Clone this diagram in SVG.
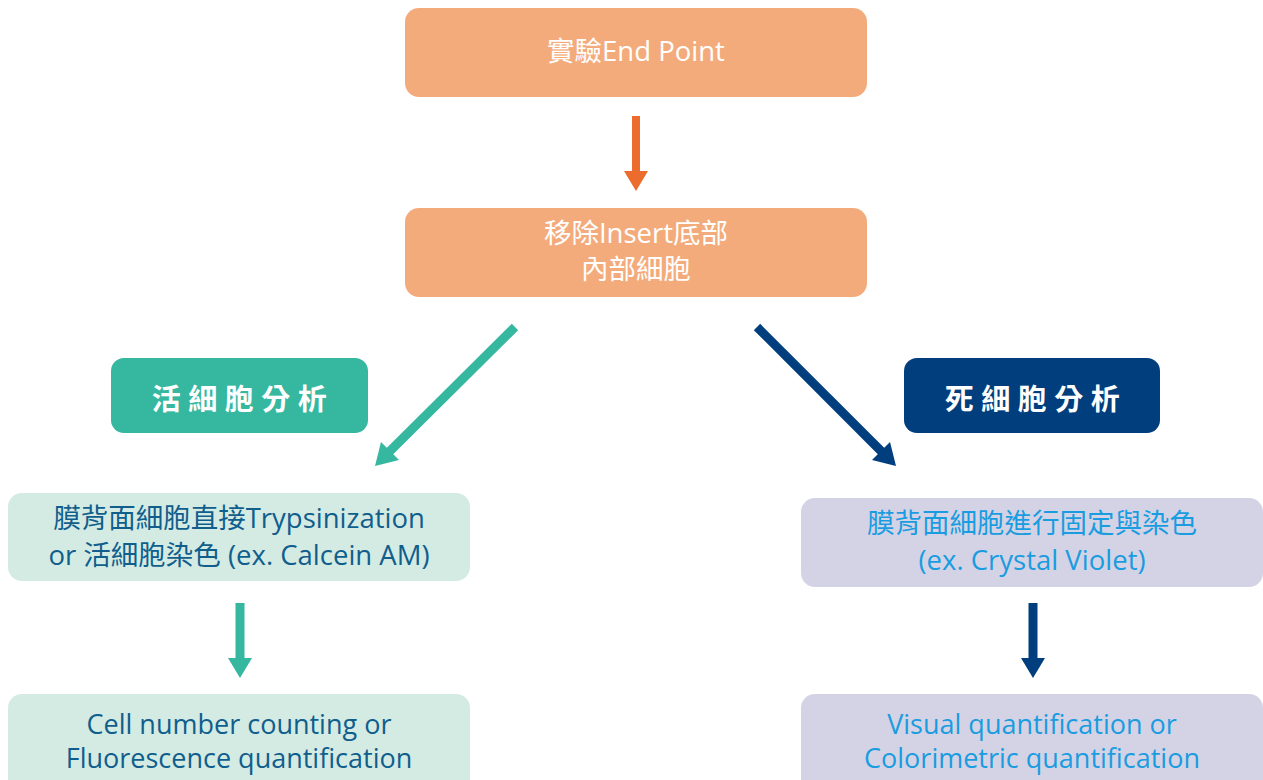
<svg xmlns="http://www.w3.org/2000/svg" width="1263" height="780" viewBox="0 0 1263 780">
<style>
  text { font-family: "Open Sans", "Noto Sans CJK TC", sans-serif; font-size: 27.5px; text-anchor: middle; }
  .orange { fill: #F4AB7C; }
  .wt { fill: #FFFFFF; }
  .label { font-weight: bold; font-size: 29px; letter-spacing: 7.5px; fill: #FFFFFF; }
  .teal { fill: #35B7A0; }
  .navy { fill: #013E7D; }
  .lteal { fill: #D4EBE4; }
  .lav { fill: #D4D3E5; }
  .ltxt { fill: #105E8C; }
  .rtxt { fill: #1A9CE0; }
  .tight { font-size: 27px; }
  .shaft-o { stroke: #EC6C2E; stroke-width: 8; fill: none; }
  .shaft-t { stroke: #35B7A0; stroke-width: 9; fill: none; }
  .shaft-n { stroke: #013E7D; stroke-width: 9; fill: none; }
</style>
<g id="node-endpoint">
  <rect class="orange" x="405" y="8" width="462" height="89" rx="14"/>
  <text class="wt" x="636" y="61">實驗End Point</text>
</g>
<g id="node-remove">
  <rect class="orange" x="405" y="208" width="462" height="89" rx="14"/>
  <text class="wt" x="636" y="243">移除Insert底部</text>
  <text class="wt" x="636" y="279">內部細胞</text>
</g>
<g id="node-live-label">
  <rect class="teal" x="111" y="358" width="257" height="75" rx="13"/>
  <text class="label" x="243" y="410">活細胞分析</text>
</g>
<g id="node-dead-label">
  <rect class="navy" x="904" y="358" width="256" height="75" rx="13"/>
  <text class="label" x="1036" y="410">死細胞分析</text>
</g>
<g id="node-live-step">
  <rect class="lteal" x="8" y="493" width="462" height="88" rx="14"/>
  <text class="ltxt" x="239" y="528">膜背面細胞直接Trypsinization</text>
  <text class="ltxt" x="239" y="565">or 活細胞染色 (ex. Calcein AM)</text>
</g>
<g id="node-dead-step">
  <rect class="lav" x="801" y="498" width="462" height="89" rx="14"/>
  <text class="rtxt" x="1032" y="533">膜背面細胞進行固定與染色</text>
  <text class="rtxt" x="1032" y="570">(ex. Crystal Violet)</text>
</g>
<g id="node-live-result">
  <rect class="lteal" x="8" y="694" width="462" height="110" rx="14"/>
  <text class="ltxt tight" x="239" y="734">Cell number counting or</text>
  <text class="ltxt tight" x="239" y="768">Fluorescence quantification</text>
</g>
<g id="node-dead-result">
  <rect class="lav" x="801" y="694" width="462" height="110" rx="14"/>
  <text class="rtxt tight" x="1032" y="734">Visual quantification or</text>
  <text class="rtxt tight" x="1032" y="768">Colorimetric quantification</text>
</g>
<g id="connectors">
  <line class="shaft-o" x1="636" y1="116" x2="636" y2="172"/>
  <polygon fill="#EC6C2E" points="624,171 648,171 636,191"/>
  <line class="shaft-t" x1="515" y1="327" x2="389" y2="452"/>
  <polygon fill="#35B7A0" points="375,466 381,442 399,460"/>
  <line class="shaft-n" x1="757" y1="327" x2="882" y2="452"/>
  <polygon fill="#013E7D" points="896,466 872,460 890,442"/>
  <line class="shaft-t" x1="240" y1="603" x2="240" y2="659"/>
  <polygon fill="#35B7A0" points="228,658 252,658 240,678"/>
  <line class="shaft-n" x1="1033" y1="603" x2="1033" y2="659"/>
  <polygon fill="#013E7D" points="1021,658 1045,658 1033,678"/>
</g>
</svg>
